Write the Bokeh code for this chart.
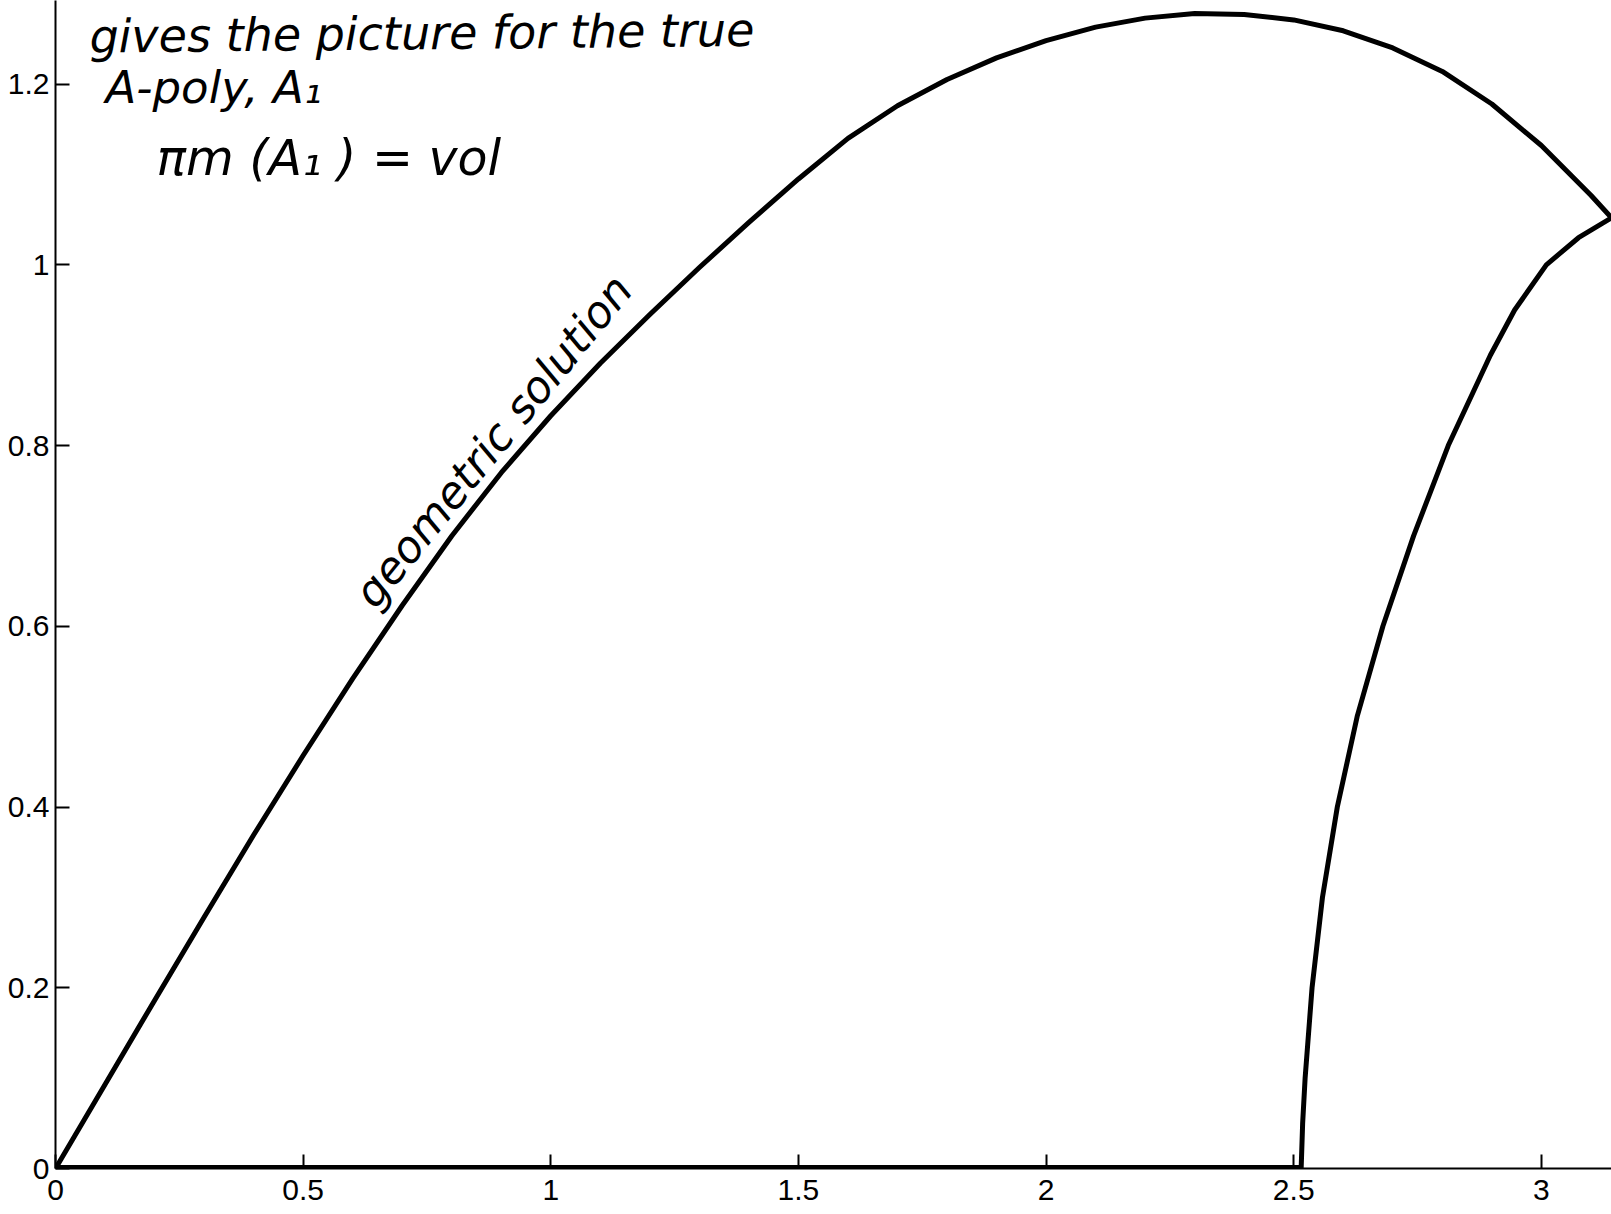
import math
from bokeh.plotting import figure
from bokeh.models import Range1d, FixedTicker, NumeralTickFormatter, Label
from bokeh.embed import file_html
from bokeh.resources import INLINE

# ---- data ----
outer_x = [0, 0.1, 0.2, 0.3, 0.4, 0.5, 0.6, 0.7, 0.8, 0.9, 1.0, 1.1, 1.2, 1.3, 1.4,
           1.5, 1.6, 1.7, 1.8, 1.9, 2.0, 2.1, 2.2, 2.3, 2.4, 2.5, 2.6, 2.7, 2.8, 2.9,
           3.0, 3.1, 3.1416]
outer_y = [0, 0.093, 0.186, 0.278, 0.369, 0.457, 0.542, 0.623, 0.700, 0.770, 0.833,
           0.891, 0.945, 0.997, 1.047, 1.095, 1.140, 1.176, 1.205, 1.229, 1.248, 1.263,
           1.273, 1.278, 1.277, 1.271, 1.259, 1.240, 1.214, 1.178, 1.132, 1.077, 1.052]

inner_y = [0, 0.05, 0.1, 0.2, 0.3, 0.4, 0.5, 0.6, 0.7, 0.8, 0.9, 0.95, 1.0, 1.03, 1.052]
inner_x = [2.515, 2.518, 2.523, 2.537, 2.558, 2.588, 2.628, 2.68, 2.742, 2.812, 2.897,
           2.946, 3.01, 3.075, 3.1416]

zero_x = [0, 2.515]
zero_y = [0, 0]

x_ticks = [0, 0.5, 1, 1.5, 2, 2.5, 3]
y_ticks = [0, 0.2, 0.4, 0.6, 0.8, 1, 1.2]

note_lines = ["gives the picture for the true", "A-poly, A\u2081", "\u03c0m (A\u2081 ) = vol"]
curve_note = "geometric solution"

# ---- figure ----
p = figure(frame_width=1556, frame_height=1168, output_backend="svg",
           toolbar_location=None,
           x_range=Range1d(0, math.pi), y_range=Range1d(0, 1.2925),
           min_border_left=55, min_border_right=0, min_border_top=0,
           min_border_bottom=46)
p.outline_line_color = None
p.background_fill_color = "white"
p.border_fill_color = "white"
p.xgrid.visible = False
p.ygrid.visible = False

for ax in (p.xaxis[0], p.yaxis[0]):
    ax.axis_line_color = "black"
    ax.axis_line_width = 2
    ax.major_tick_line_color = "black"
    ax.major_tick_line_width = 2
    ax.major_tick_in = 14
    ax.major_tick_out = 0
    ax.minor_tick_line_color = None
    ax.major_label_text_font = "Liberation Sans"
    ax.major_label_text_font_size = "30px"
    ax.major_label_text_color = "black"
    ax.formatter = NumeralTickFormatter(format="0.[0]")

p.xaxis[0].ticker = FixedTicker(ticks=x_ticks)
p.yaxis[0].ticker = FixedTicker(ticks=y_ticks)
p.xaxis[0].major_label_standoff = 11
p.yaxis[0].major_label_standoff = 6

p.line(zero_x, zero_y, line_color="black", line_width=7)
p.line(outer_x, outer_y, line_color="black", line_width=5, line_join="round")
p.line(inner_x, inner_y, line_color="black", line_width=5, line_join="round")

hand = dict(text_font="DejaVu Sans", text_font_style="italic",
            text_color="black", text_baseline="alphabetic")
p.add_layout(Label(x=0.0686, y=1.2525, text=note_lines[0], angle=0.01,
                   text_font_size="46px", **hand))
p.add_layout(Label(x=0.101, y=1.1960, text=note_lines[1],
                   text_font_size="45px", **hand))
p.add_layout(Label(x=0.204, y=1.1180, text=note_lines[2],
                   text_font_size="49px", **hand))
p.add_layout(Label(x=0.622, y=0.628, text=curve_note, angle=0.89,
                   text_font_size="44px", **hand))

open("out.html", "w").write(file_html(p, INLINE))
